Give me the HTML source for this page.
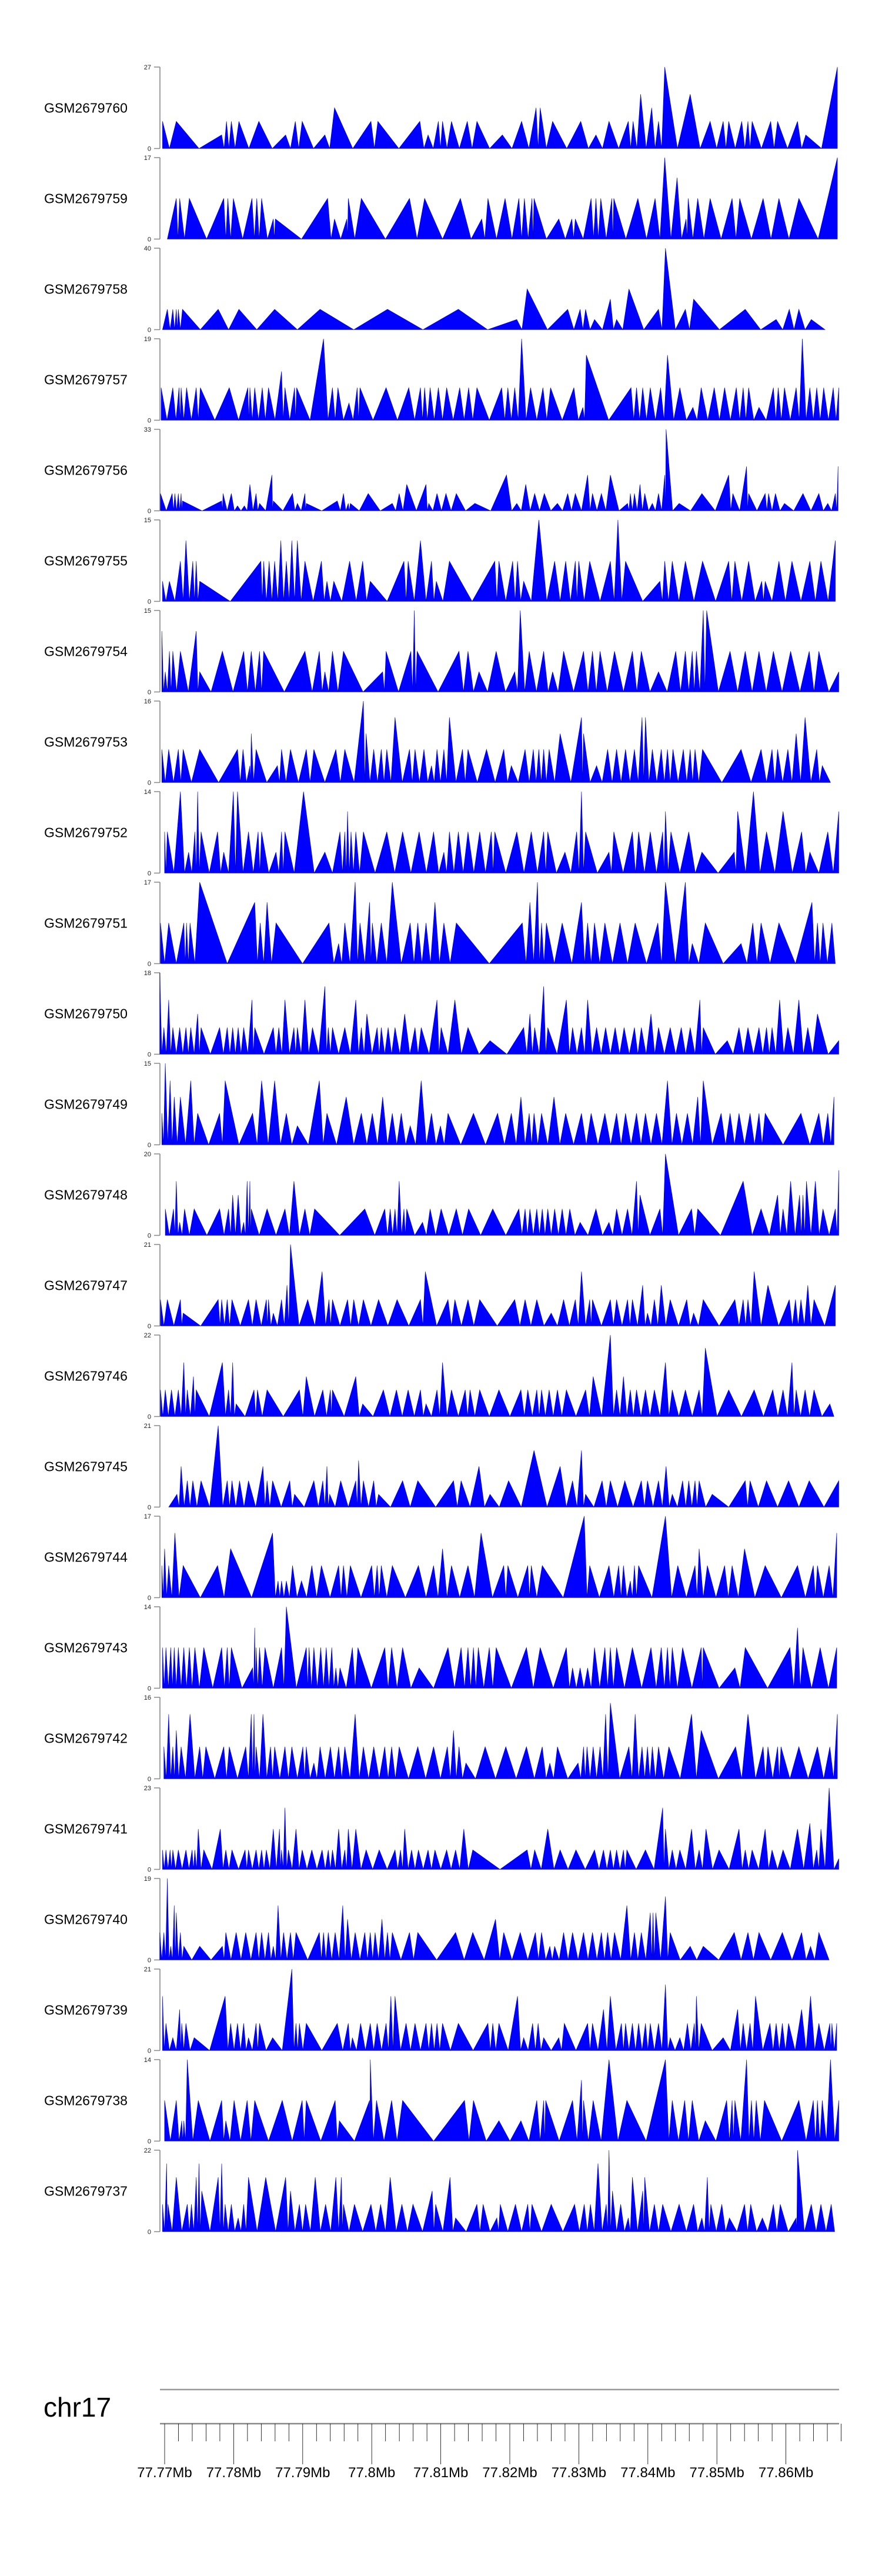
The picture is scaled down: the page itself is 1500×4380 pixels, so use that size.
<!DOCTYPE html>
<html><head><meta charset="utf-8"><style>
html,body{margin:0;padding:0;background:#fff;}
svg{display:block;font-family:"Liberation Sans",sans-serif;}
</style></head><body>
<svg id="chart" xmlns="http://www.w3.org/2000/svg" width="1500" height="4380" viewBox="0 0 1500 4380"></svg>
<script>
const sampleNames = ["GSM2679760","GSM2679759","GSM2679758","GSM2679757","GSM2679756","GSM2679755","GSM2679754","GSM2679753","GSM2679752","GSM2679751","GSM2679750","GSM2679749","GSM2679748","GSM2679747","GSM2679746","GSM2679745","GSM2679744","GSM2679743","GSM2679742","GSM2679741","GSM2679740","GSM2679739","GSM2679738","GSM2679737"];
const trackMax = [27,17,40,19,33,15,15,16,14,17,18,15,20,21,22,21,17,14,16,23,19,21,14,22];
const axisTickMb = [77.77,77.78,77.79,77.80,77.81,77.82,77.83,77.84,77.85,77.86];
const axisTickLabels = ["77.77Mb","77.78Mb","77.79Mb","77.8Mb","77.81Mb","77.82Mb","77.83Mb","77.84Mb","77.85Mb","77.86Mb"];

const pos760 = [1.4,3.4,10.0,10.7,11.4,12.5,15.4,19.3,20.7,21.7,25.0,26.4,31.7,32.7,38.8,40.0,41.5,42.1,43.4,45.7,47.1,50.8,53.6,55.7,56.3,58.1,62.2,64.4,66.3,69.1,69.8,70.9,72.5,73.5,74.4,78.1,81.0,82.9,83.7,85.6,86.5,87.1,89.8,90.8,93.7,94.9,99.5];
const val760 = [9,9,4.5,9,9,9,9,4.5,9,9,4.5,13.5,9,9,9,4.5,9,9,9,9,9,4.5,9,13.5,13.5,9,9,4.5,9,9,9,18,13.5,9,27,18,9,9,9,9,9,9,9,9,9,4.5,27];
const pos759 = [2.1,3.4,3.9,5.3,10.3,10.9,11.7,14.4,15.1,15.8,17.5,17.8,25.4,26.4,28.2,28.4,30.3,37.3,39.5,44.7,47.8,48.7,51.2,53.2,54.0,55.1,55.4,59.0,60.9,61.4,63.7,64.4,65.1,66.7,67.0,70.5,73.0,74.4,76.2,77.5,77.8,79.2,81.0,84.2,85.3,88.7,91.0,93.9,99.5];
const val759 = [0,8.5,8.5,8.5,8.5,8.5,8.5,8.5,8.5,8.5,4.2,4.2,8.5,4.2,4.2,8.5,8.5,8.5,8.5,8.5,4.2,8.5,8.5,8.5,8.5,8.5,8.5,4.2,4.2,4.2,8.5,8.5,8.5,8.5,8.5,8.5,8.5,17,12.8,4.2,8.5,8.5,8.5,8.5,8.5,8.5,8.5,8.5,17];
const pos758 = [1.4,2.1,2.9,3.4,3.7,4.3,9.5,12.5,17.7,24.3,34.1,44.4,52.9,54.4,60.3,62.1,62.9,64.2,66.5,67.4,69.2,73.5,74.5,77.4,78.6,86.1,90.6,92.5,93.9,95.7,97.7];
const val758 = [0,10,10,10,10,10,10,10,10,10,10,10,5,20,10,10,10,5,15,5,20,10,40,10,15,10,5,10,10,5,0];
const pos757 = [1.2,2.9,3.8,4.1,4.9,6.3,6.9,11.1,13.8,14.1,14.8,15.9,16.8,18.7,19.2,20.6,20.9,24.8,26.1,26.9,28.5,29.7,30.1,33.9,37.2,38.9,39.5,40.3,41.5,42.7,44.6,45.9,47.1,50.7,51.6,52.6,53.6,54.9,56.7,57.8,61.2,62.5,63.0,69.5,70.3,71.2,72.3,73.8,74.8,76.6,78.5,79.7,81.6,83.1,84.8,85.8,86.6,88.1,90.2,90.9,91.8,93.5,94.4,95.5,96.5,97.5,98.9,99.7];
const val757 = [7.6,7.6,7.6,7.6,7.6,7.6,7.6,7.6,7.6,7.6,7.6,7.6,7.6,11.4,7.6,7.6,7.6,19,7.6,7.6,4,7.6,7.6,7.6,7.6,7.6,7.6,7.6,7.6,7.6,7.6,7.6,7.6,7.6,7.6,7.6,19,7.6,7.6,7.6,7.6,3,15.2,7.6,7.6,7.6,7.6,7.6,15.2,7.6,3,7.6,7.6,7.6,7.6,7.6,7.6,3,7.6,7.6,7.6,7.6,19,7.6,7.6,7.6,7.6,7.6];
const pos756 = [1.1,2.8,3.2,3.7,4.1,4.3,10.0,10.2,11.4,12.3,13.3,14.1,15.0,15.5,17.3,17.5,20.3,21.0,22.1,22.3,26.8,27.7,28.4,28.7,31.3,34.8,35.8,36.9,39.7,40.1,41.3,42.6,44.1,46.8,51.4,52.9,54.2,55.5,56.9,58.8,60.3,61.4,63.2,63.9,65.2,66.5,69.0,69.4,70.0,70.8,71.5,72.6,73.5,74.4,74.6,76.5,79.8,83.7,84.3,86.3,86.6,89.0,89.5,90.5,91.8,94.5,96.8,98.1,99.2,99.6];
const val756 = [7,7,7,7,7,4,4,7,7,2,2,10.7,7,3,14.5,4,7,3,7,3,4,7,3,3,7,3,7,10.7,10.7,3,7,7,7,3,14.5,3,10.7,7,7,3,7,7,14.5,7,7,14.5,3,7,7,10.7,7,3,7,14.5,33,3,7,14.5,7,18,7,7,7,7,3,7,7,3,7,18];
const pos755 = [1.4,2.4,4.0,4.8,5.8,6.3,6.8,15.7,16.1,16.9,17.7,18.6,19.4,20.2,21.0,22.1,24.5,25.3,26.3,28.6,30.5,31.6,36.5,37.1,38.9,40.5,41.2,43.1,49.7,50.3,52.3,53.0,53.9,56.1,58.4,60.0,61.4,61.9,63.5,66.5,67.6,68.7,73.7,74.4,75.5,77.4,79.9,83.7,84.6,86.6,88.5,89.0,91.0,92.9,95.5,97.1,99.2];
const val755 = [3.7,3.7,7.4,11.2,7.4,7.4,3.7,7.4,7.4,7.4,7.4,11.2,7.4,11.2,11.2,7.4,7.4,3.7,3.7,7.4,7.4,3.7,7.4,7.4,11.2,7.4,3.7,7.4,7.4,7.4,7.4,7.4,3.7,15,7.4,7.4,7.4,7.4,7.4,7.4,15,7.4,3.7,7.4,7.4,7.4,7.4,7.4,7.4,7.4,3.7,3.7,7.4,7.4,7.4,7.4,11.2];
const pos754 = [1.3,1.8,2.4,2.9,4.0,6.3,6.8,10.1,13.2,14.3,15.5,16.1,22.1,24.2,25.0,26.1,27.7,33.4,33.9,37.5,38.0,38.4,44.5,45.8,47.4,49.9,52.6,53.4,54.7,56.8,58.1,59.7,62.6,63.9,65.0,67.1,69.7,71.0,73.5,76.0,77.4,78.4,79.0,80.0,80.5,83.9,86.1,88.1,90.2,92.7,95.4,96.8,99.7];
const val754 = [11.2,3.7,7.5,7.5,7.5,11.2,3.7,7.5,7.5,7.5,7.5,7.5,7.5,7.5,3.7,7.5,7.5,3.7,7.5,7.5,15,7.5,7.5,7.5,3.7,7.5,3.7,15,7.5,7.5,3.7,7.5,7.5,7.5,7.5,7.5,7.5,7.5,3.7,7.5,7.5,7.5,7.5,15,15,7.5,7.5,7.5,7.5,7.5,7.5,7.5,3.7];
const pos753 = [1.3,2.3,3.7,4.4,6.8,12.3,13.1,14.1,14.3,15.0,18.1,18.7,20.0,22.3,23.4,26.6,27.9,30.6,31.0,32.1,33.2,34.0,35.2,37.3,38.1,39.4,40.5,41.3,42.3,43.1,45.0,45.8,48.5,51.0,52.1,54.1,55.3,56.1,56.8,57.6,59.2,62.3,62.6,64.5,66.1,67.4,68.7,70.0,71.1,71.6,72.6,73.9,74.8,75.6,77.1,78.1,78.8,79.9,85.5,88.4,90.0,90.8,92.3,93.5,94.8,96.5,97.3,98.5];
const val753 = [6.5,6.5,6.5,6.5,6.5,6.5,6.5,3.3,9.6,6.5,3.3,6.5,6.5,6.5,6.5,6.5,6.5,16,9.6,6.5,6.5,6.5,12.8,6.5,6.5,6.5,3.3,6.5,6.5,12.8,6.5,6.5,6.5,6.5,3.3,6.5,6.5,6.5,6.5,6.5,9.6,12.8,9.6,3.3,6.5,6.5,6.5,6.5,12.8,12.8,6.5,6.5,6.5,6.5,6.5,6.5,6.5,6.5,6.5,6.5,6.5,6.5,6.5,9.6,12.8,6.5,3.3,0];
const pos752 = [1.7,2.1,4.0,5.2,6.1,6.5,7.0,9.4,10.3,11.7,12.3,13.9,15.3,15.8,17.9,18.7,19.2,21.9,25.0,27.2,27.9,28.3,28.8,29.5,30.6,34.0,36.3,38.7,40.8,42.3,43.1,44.4,45.8,47.5,49.2,49.7,52.9,55.0,56.8,57.4,59.9,61.6,62.3,62.9,66.3,67.0,69.7,70.6,72.3,74.1,74.5,75.3,77.9,79.8,84.5,85.0,87.3,89.2,91.6,94.3,95.5,98.1,99.7];
const val752 = [7.1,7.1,14,3.6,7.1,14,7.1,7.1,3.6,14,14,7.1,7.1,7.1,3.6,7.1,7.1,14,3.6,7.1,7.1,10.6,7.1,7.1,7.1,7.1,7.1,7.1,7.1,3.6,7.1,7.1,7.1,7.1,7.1,7.1,7.1,7.1,7.1,7.1,3.6,7.1,14,7.1,3.6,7.1,7.1,7.1,7.1,7.1,10.6,7.1,7.1,3.6,3.6,10.6,14,7.1,10.6,7.1,3.6,7.1,10.6];
const pos751 = [1.1,2.3,4.5,4.9,5.4,6.8,14.8,15.6,16.6,17.9,25.6,27.0,27.9,29.4,30.1,31.5,31.9,33.2,34.8,37.4,38.5,39.7,41.0,42.3,44.1,53.7,54.8,55.9,56.5,57.2,59.5,62.3,63.2,64.2,65.7,67.9,70.1,73.4,74.5,77.4,78.4,80.3,85.5,87.2,88.4,91.0,95.8,96.6,97.4,98.7,99.2];
const val751 = [8.5,8.5,8.5,8.5,8.5,17,12.8,8.5,12.8,8.5,8.5,4.2,8.5,17,8.5,12.8,8.5,8.5,17,8.5,8.5,8.5,12.8,8.5,8.5,8.5,12.8,17,8.5,8.5,8.5,12.8,8.5,8.5,8.5,8.5,8.5,8.5,17,17,4.2,8.5,4.2,8.5,8.5,8.5,12.8,8.5,8.5,8.5,0];
const pos750 = [1.0,1.6,2.3,2.9,3.9,4.8,5.5,6.5,7.0,9.7,10.8,11.6,12.4,13.2,14.4,14.8,17.5,18.3,19.2,20.5,21.0,22.1,23.2,25.0,25.5,26.1,27.9,29.5,30.3,31.1,32.6,33.2,34.2,35.2,36.6,38.1,39.0,41.3,41.9,43.9,45.8,49.0,53.9,54.8,55.5,56.8,57.4,60.1,61.0,62.3,63.2,64.5,65.8,67.2,68.5,70.0,71.0,72.4,73.5,75.2,76.8,78.1,79.5,80.0,83.5,85.2,86.5,88.1,89.2,90.0,91.1,92.3,93.9,95.2,96.6,99.7];
const val750 = [18,5.9,12,5.9,5.9,5.9,5.9,8.9,5.9,5.9,5.9,5.9,5.9,5.9,12,5.9,5.9,5.9,12,5.9,5.9,12,5.9,15,5.9,5.9,5.9,12,5.9,8.9,5.9,5.9,5.9,5.9,8.9,5.9,5.9,12,5.9,12,5.9,3,5.9,8.9,5.9,15,5.9,12,5.9,5.9,12,5.9,5.9,5.9,5.9,5.9,5.9,8.9,5.9,5.9,5.9,5.9,12,5.9,3,5.9,5.9,5.9,5.9,5.9,12,5.9,12,5.9,8.9,3];
const pos749 = [1.3,1.8,2.5,3.1,4.0,5.5,6.5,9.7,10.5,14.5,15.8,17.7,19.4,21.0,24.2,25.3,28.1,30.3,31.9,33.4,34.8,36.1,37.4,39.0,40.5,41.8,42.9,46.6,50.1,52.1,53.5,54.7,55.4,56.5,58.3,60.0,62.3,63.7,65.7,67.4,68.7,70.3,71.6,73.2,74.8,76.1,77.7,79.2,80.0,82.6,83.9,85.2,86.8,88.1,89.0,94.2,96.8,98.1,99.0];
const val749 = [5.8,15,11.8,8.8,8.8,11.8,5.8,5.8,11.8,5.8,11.8,11.8,5.8,3.5,11.8,5.8,8.8,5.8,5.8,8.8,5.8,5.8,3.5,11.8,5.8,3.5,5.8,5.8,5.8,5.8,8.8,5.8,5.8,5.8,8.8,5.8,5.8,5.8,5.8,5.8,5.8,5.8,5.8,5.8,11.8,5.8,5.8,8.8,11.8,5.8,5.8,5.8,5.8,5.8,5.8,5.8,5.8,5.8,8.8];
const pos748 = [1.8,3.0,3.4,3.9,4.6,6.0,9.7,11.0,11.6,12.4,13.2,13.7,14.1,14.3,16.6,19.2,20.5,22.1,23.5,30.8,33.7,34.5,35.2,35.8,36.5,36.9,39.2,40.3,41.9,44.1,45.9,49.4,53.2,54.1,54.8,55.8,56.6,57.4,58.4,59.5,60.6,62.1,64.4,66.3,67.4,69.0,70.3,70.8,73.7,74.5,78.3,79.2,85.8,88.4,90.8,91.6,92.7,94.0,94.5,95.0,96.3,97.4,99.2,99.7];
const val748 = [6.5,6.5,13.3,3.2,6.5,6.5,6.5,6.5,9.9,9.9,3.2,13.3,13.3,6.5,6.5,6.5,13.3,6.5,6.5,6.5,6.5,6.5,6.5,13.3,6.5,6.5,3.2,6.5,6.5,6.5,6.5,6.5,6.5,6.5,6.5,6.5,6.5,6.5,6.5,6.5,6.5,3.2,6.5,3.2,6.5,6.5,13.3,9.9,6.5,20,6.5,6.5,13.3,6.5,9.9,6.5,13.3,9.9,9.9,13.3,13.3,6.5,6.5,16];
const pos747 = [1.1,2.1,4.0,4.4,9.5,10.0,10.8,11.5,13.9,15.0,16.5,16.8,17.5,18.7,19.5,20.0,22.5,24.6,25.6,26.1,28.3,29.2,30.6,32.8,35.5,38.9,39.6,42.9,43.9,45.8,47.5,52.6,54.1,55.8,57.9,59.7,61.4,62.3,63.5,63.9,66.5,67.4,69.0,69.7,71.2,71.9,72.9,73.9,75.2,77.6,78.6,80.0,84.6,85.8,86.5,87.4,89.4,92.5,93.4,94.2,95.2,96.1,99.2];
const val747 = [6.8,6.8,6.8,3.3,6.8,6.8,6.8,6.8,6.8,6.8,6.8,6.8,3.3,6.8,10.5,21,6.8,14,6.8,6.8,6.8,6.8,6.8,6.8,6.8,6.8,14,6.8,6.8,6.8,6.8,6.8,6.8,6.8,3.3,6.8,6.8,14,6.8,6.8,6.8,6.8,6.8,6.8,10.5,3.3,6.8,10.5,6.8,6.8,3.3,6.8,6.8,6.8,6.8,14,10.5,6.8,6.8,6.8,10.5,6.8,10.5];
const pos746 = [1.1,1.8,2.7,3.7,4.5,5.0,5.9,6.3,10.1,11.0,11.6,12.1,14.7,15.2,16.6,21.3,22.3,24.7,25.8,26.1,29.5,30.5,33.5,35.4,37.1,38.9,39.7,41.3,42.1,43.4,45.4,46.1,47.5,50.3,53.5,54.5,55.8,56.5,57.6,58.8,60.1,62.9,64.0,66.5,67.4,68.4,69.4,70.3,71.6,72.9,74.5,75.5,77.4,79.4,80.3,83.7,87.4,90.1,91.6,92.9,93.5,94.8,96.1,98.4,99.0];
const val746 = [7.2,7.2,7.2,7.2,14.6,7.2,10.8,7.2,14.6,7.2,14.6,3.4,7.2,7.2,7.2,7.2,10.8,7.2,7.2,7.2,10.8,3.4,7.2,7.2,7.2,7.2,3.4,7.2,14.6,7.2,7.2,7.2,7.2,7.2,7.2,7.2,7.2,7.2,7.2,7.2,7.2,7.2,10.8,22,7.2,10.8,7.2,7.2,7.2,7.2,14.6,7.2,7.2,7.2,18.5,7.2,7.2,7.2,7.2,14.6,7.2,7.2,7.2,3.4,0];
const pos745 = [2.3,3.5,4.1,5.0,5.8,7.0,9.5,10.8,11.5,12.6,13.9,16.0,16.6,17.4,19.9,20.6,23.4,24.7,25.3,25.7,27.3,29.5,29.9,30.6,32.1,32.8,36.3,38.5,43.7,44.8,47.4,49.0,51.7,55.4,59.2,61.0,62.3,62.9,65.3,66.5,68.6,71.0,71.9,73.5,74.6,75.5,77.0,77.9,78.8,79.4,81.3,86.1,86.8,89.2,92.4,95.4,99.7];
const val745 = [0,3.3,10.5,6.8,6.8,6.8,21,6.8,6.8,6.8,6.8,10.5,6.8,6.8,6.8,3.3,6.8,6.8,10.5,3.3,6.8,6.8,12,6.8,6.8,3.3,6.8,6.8,6.8,6.8,10.5,3.3,6.8,14.6,10.5,6.8,14.6,3.3,6.8,6.8,6.8,6.8,6.8,6.8,10.5,3.3,6.8,6.8,6.8,6.8,3.3,6.8,6.8,6.8,6.8,6.8,6.8];
const pos744 = [1.3,1.7,2.3,3.2,4.4,9.4,11.3,17.4,18.2,18.7,19.4,20.3,21.6,23.1,24.5,27.0,27.7,28.7,31.8,32.6,33.2,34.8,38.6,40.8,42.1,43.4,45.8,47.7,51.0,51.6,54.5,55.0,56.6,62.7,63.5,66.3,67.7,68.4,69.4,70.0,70.6,74.5,76.3,78.8,79.4,80.6,83.1,84.2,86.0,89.0,93.7,96.0,96.6,98.3,99.4];
const val744 = [6.7,10.2,6.7,13.5,6.7,6.7,10.2,13.5,3.5,3.5,3.5,6.7,3.5,6.7,6.7,6.7,6.7,6.7,6.7,6.7,6.7,6.7,6.7,6.7,10.2,6.7,6.7,13.5,6.7,6.7,6.7,6.7,6.7,17,6.7,6.7,6.7,6.7,3.5,6.7,6.7,17,6.7,6.7,10.2,6.7,6.7,6.7,10.2,6.7,6.7,6.7,6.7,6.7,13.5];
const pos743 = [1.4,1.9,2.6,3.1,3.7,4.5,5.3,6.1,7.4,10.0,10.8,11.4,14.5,14.8,15.0,15.5,16.3,18.7,19.4,22.3,22.7,23.4,24.4,25.2,26.0,26.6,27.2,29.0,29.8,33.7,34.7,36.3,38.7,42.9,44.8,45.8,46.6,47.3,48.9,49.9,54.3,56.3,60.1,61.0,62.1,63.2,64.2,65.7,66.5,67.4,69.7,72.4,73.9,74.8,75.5,77.0,79.7,80.0,84.6,86.1,92.6,93.7,94.5,97.0,99.4];
const val743 = [7,7,7,7,7,7,7,7,7,7,7,7,3.5,10.4,7,7,7,7,14,7,7,7,7,7,7,3.5,3.5,7,7,7,7,7,3.5,7,7,7,7,7,7,7,7,7,7,3.5,3.5,3.5,7,7,7,7,7,7,7,7,7,7,7,7,3.5,7,7,10.4,7,7,7];
const pos742 = [1.6,2.3,2.9,3.4,4.1,5.4,6.8,7.7,10.3,11.1,13.5,14.3,14.7,15.0,16.0,17.1,17.7,19.2,20.2,21.8,22.3,23.4,24.3,25.8,27.0,27.9,29.4,30.6,32.1,33.7,34.7,35.8,38.5,40.8,42.8,43.7,44.5,45.5,48.3,51.3,54.3,56.6,57.7,58.8,61.8,62.6,63.1,64.0,65.0,65.8,66.5,69.2,70.1,71.1,71.9,72.6,73.5,75.0,78.3,79.7,84.7,86.5,88.7,89.4,90.8,91.3,93.9,96.6,98.4,99.5];
const val742 = [6.3,12.7,6.3,9.5,6.3,12.7,6.3,6.3,6.3,6.3,6.3,12.7,12.7,6.3,12.7,6.3,6.3,6.3,6.3,6.3,6.3,3.1,6.3,6.3,6.3,6.3,12.7,6.3,6.3,6.3,6.3,6.3,6.3,6.3,6.3,9.5,6.3,3.1,6.3,6.3,6.3,6.3,3.1,6.3,3.1,6.3,6.3,6.3,6.3,12.7,14.9,6.3,12.7,6.3,6.3,6.3,6.3,6.3,12.7,9.5,6.3,12.7,6.3,6.3,6.3,6.3,6.3,6.3,6.3,12.7];
const pos741 = [1.4,1.9,2.5,2.9,3.7,4.8,5.7,6.1,6.6,7.4,9.8,10.6,11.5,13.4,13.9,15.0,15.8,16.5,17.5,18.4,18.7,19.2,19.7,20.8,21.7,23.1,24.6,25.5,26.1,27.0,27.9,28.4,29.5,31.0,32.9,35.2,36.0,36.6,37.6,38.6,40.0,41.0,42.7,44.0,45.2,46.5,54.4,55.5,57.4,59.2,61.5,64.2,65.5,66.5,67.4,68.4,68.9,71.6,74.1,74.5,75.5,76.6,78.3,79.4,80.4,82.3,85.2,86.1,87.1,89.0,90.0,91.6,93.7,95.5,96.5,97.1,98.3,99.7];
const val741 = [5.5,5.5,5.5,5.5,5.5,5.5,5.5,5.5,11.4,5.5,11.4,5.5,5.5,5.5,5.5,5.5,5.5,5.5,11.4,11.4,5.5,17.4,5.5,11.4,5.5,5.5,5.5,5.5,5.5,11.4,5.5,11.4,11.4,5.5,5.5,5.5,5.5,11.4,5.5,5.5,5.5,5.5,5.5,5.5,11.4,5.5,5.5,5.5,11.4,5.5,5.5,5.5,5.5,5.5,5.5,5.5,5.5,5.5,17.4,11.4,5.5,5.5,11.4,5.5,11.4,5.5,11.4,5.5,5.5,11.4,5.5,5.5,11.4,13,5.5,11.4,23,3];
const pos740 = [1.0,1.6,2.1,2.6,3.1,3.4,4.0,4.5,6.8,10.1,10.6,12.1,13.5,15.0,15.8,16.8,17.5,18.2,19.0,20.0,20.8,24.2,24.8,25.5,26.5,27.6,28.3,29.4,30.8,31.6,32.3,33.3,34.1,34.8,37.3,38.5,44.0,46.5,49.8,51.0,53.4,55.6,56.5,57.7,58.4,59.7,61.0,62.6,63.9,65.2,66.1,67.1,68.9,70.0,71.0,72.3,72.7,73.1,74.5,75.2,78.1,80.0,84.5,86.5,88.1,91.5,94.3,95.6,96.8,98.3];
const val740 = [6.4,6.4,19,3.2,12.7,11,6.4,3.2,3.2,3.2,6.4,6.4,6.4,6.4,6.4,6.4,3.2,12.7,6.4,6.4,6.4,6.4,6.4,6.4,6.4,12.7,9.5,6.4,6.4,6.4,6.4,9.5,6.4,6.4,6.4,6.4,6.4,6.4,9.5,6.4,6.4,6.4,6.4,3.2,3.2,6.4,6.4,6.4,6.4,6.4,6.4,6.4,12.7,6.4,6.4,11,11,11,14.8,6.4,3.2,3.2,6.4,6.4,6.4,6.4,6.4,3.2,6.4,0];
const pos739 = [1.4,1.9,2.9,3.9,4.2,4.8,6.0,10.5,11.3,12.3,13.2,13.9,15.0,15.5,17.4,20.2,20.8,21.3,22.3,26.8,28.4,29.0,30.2,31.6,32.6,33.9,34.6,35.2,36.8,38.1,39.7,40.5,41.3,42.1,44.4,48.7,49.4,50.3,53.0,53.9,55.2,56.0,56.8,59.0,59.8,63.2,63.9,65.5,66.5,68.1,68.7,69.7,70.6,71.6,72.3,73.5,74.5,75.2,76.6,77.7,78.7,79.0,79.7,82.9,85.0,85.8,86.8,87.6,89.7,90.6,91.5,92.4,94.3,95.6,96.8,98.4,98.7,99.4];
const val739 = [14,7,3.3,10.6,7,7,3.3,14,7,7,7,3.3,7,7,3.3,21,7,7,7,7,7,3.3,7,7,7,7,14,14,7,7,7,7,7,7,7,7,7,7,14,3.3,7,7,3.3,3.3,7,7,7,10.6,14,7,7,7,7,7,7,7,17,3.3,3.3,7,7,14,7,3.3,10.6,7,7,14,7,7,7,7,10.6,14,7,7,7,7];
const pos738 = [1.7,3.4,4.2,4.5,5.0,6.6,10.0,10.6,11.8,13.7,14.8,18.8,21.7,22.3,26.5,27.1,31.5,31.6,32.5,34.7,36.3,45.3,46.6,50.3,53.5,55.8,56.8,57.1,61.0,62.3,62.6,64.0,66.3,68.9,74.5,75.5,77.3,78.4,80.3,83.4,84.2,84.6,86.3,87.0,87.7,88.9,93.9,96.0,96.6,97.3,98.5,99.7];
const val738 = [7,7,3.5,3.5,14,7,7,3.5,7,7,7,7,7,7,7,3.5,7,14,7,7,7,7,7,3.5,3.5,7,7,7,7,10.5,7,7,14,7,14,7,7,7,3.5,7,7,7,14,7,7,7,7,7,7,7,14,7];
const pos737 = [1.4,2.0,2.2,3.4,5.0,5.6,6.3,6.7,7.1,9.5,10.0,10.5,11.4,12.4,13.2,13.9,16.4,19.3,20.0,21.3,22.2,23.6,25.1,26.6,27.4,27.7,29.3,31.7,33.1,34.5,36.2,37.8,40.6,41.1,43.2,44.0,47.1,48.0,50.0,50.5,52.7,54.5,55.1,57.9,61.3,62.7,63.6,64.7,65.9,66.3,66.8,68.0,69.1,69.7,71.2,71.5,72.9,74.1,76.5,78.6,79.8,80.6,81.1,82.7,83.8,86.0,86.9,88.6,90.2,91.2,93.5,93.7,95.7,97.1,98.6,99.1];
const val737 = [7.4,18.4,7.4,14.7,7.4,7.4,14.7,18.4,11,14.7,18.4,7.4,7.4,3.7,7.4,14.7,14.7,14.7,11,7.4,7.4,14.7,7.4,14.7,14.7,7.4,7.4,7.4,7.4,14.7,7.4,7.4,11,7.4,14.7,3.7,7.4,7.4,3.7,7.4,7.4,7.4,7.4,7.4,7.4,7.4,7.4,18.4,7.4,22,11,7.4,3.7,14.7,11,14.7,7.4,7.4,7.4,7.4,3.7,14.7,7.4,7.4,3.7,7.4,7.4,3.7,7.4,7.4,3.7,22,7.4,7.4,7.4,0];

const posSeries = [pos760,pos759,pos758,pos757,pos756,pos755,pos754,pos753,pos752,pos751,pos750,pos749,pos748,pos747,pos746,pos745,pos744,pos743,pos742,pos741,pos740,pos739,pos738,pos737];
const valSeries = [val760,val759,val758,val757,val756,val755,val754,val753,val752,val751,val750,val749,val748,val747,val746,val745,val744,val743,val742,val741,val740,val739,val738,val737];

const NS = "http://www.w3.org/2000/svg";
const svg = document.getElementById("chart");
const TRACK_TOP0 = 114, TRACK_PITCH = 154, TRACK_H = 138.5;
const AXIS_X = 272;
function xScale(p){ return 260 + p * 11.7; }
function mbScale(mb){ return 280 + (mb - 77.77) * 1000 * 11.74; }
function yScale(v, k){ const base = TRACK_TOP0 + k*TRACK_PITCH + TRACK_H; return base - v / trackMax[k] * TRACK_H; }
function mk(tag, attrs){ const e = document.createElementNS(NS, tag); for (const a in attrs) e.setAttribute(a, attrs[a]); return e; }

sampleNames.forEach((name, k) => {
  const top = TRACK_TOP0 + k*TRACK_PITCH, base = top + TRACK_H;
  const g = mk("g", {});
  
  
  svg.appendChild(g);

  const lab = mk("text", {x: 75, y: top + TRACK_H/2 + 8, "font-size": 23, fill: "#000"});
  
  
  lab.textContent = name;
  g.appendChild(lab);

  const ax = mk("path", {d: `M${AXIS_X} ${top}V${base}M${AXIS_X-10} ${top}H${AXIS_X}M${AXIS_X-10} ${base}H${AXIS_X}`, stroke: "#888", "stroke-width": 1.6, fill: "none"});
  
  
  g.appendChild(ax);

  const tTop = mk("text", {x: AXIS_X-15, y: top + 4, "font-size": 11, "text-anchor": "end", fill: "#222"});
  
  
  tTop.textContent = trackMax[k];
  g.appendChild(tTop);
  const tBot = mk("text", {x: AXIS_X-15, y: base + 4, "font-size": 11, "text-anchor": "end", fill: "#222"});
  
  
  tBot.textContent = "0";
  g.appendChild(tBot);

  const P = posSeries[k], V = valSeries[k];
  const n = Math.min(P.length, V.length);
  const pts = [[P[0], 0]];
  for (let i = 0; i < n; i++) {
    pts.push([P[i], V[i]]);
    if (i < n-1 && V[i] > 0 && V[i+1] > 0) pts.push([(P[i]+P[i+1])/2, 0]);
  }
  pts.push([P[n-1], 0]);
  const d = pts.map((q, i) => (i ? "L" : "M") + xScale(q[0]).toFixed(1) + " " + yScale(q[1], k).toFixed(1)).join("") + "Z";
  const area = mk("path", {d: d, fill: "#0000ff", stroke: "#0000cc", "stroke-width": 0.6, "stroke-linejoin": "miter"});
  
  
  g.appendChild(area);
});

const chrLab = mk("text", {x: 74, y: 4109, "font-size": 46, fill: "#000"});


chrLab.textContent = "chr17";
svg.appendChild(chrLab);

const ideo = mk("line", {x1: 272, x2: 1427, y1: 4063, y2: 4063, stroke: "#999", "stroke-width": 2.5});


svg.appendChild(ideo);

const gax = mk("line", {x1: 272, x2: 1427, y1: 4121, y2: 4121, stroke: "#888", "stroke-width": 2.5});


svg.appendChild(gax);

for (let i = 0; i <= 49; i++) {
  const mb = 77.77 + i * 0.002;
  const x = mbScale(mb);
  const major = i % 5 === 0;
  const t = mk("line", {x1: x, x2: x, y1: 4121, y2: major ? 4190 : 4151, stroke: "#000", "stroke-width": 0.8});
  
  
  svg.appendChild(t);
}
axisTickMb.forEach((mb, i) => {
  const lab = mk("text", {x: mbScale(mb), y: 4212, "font-size": 24, "text-anchor": "middle", fill: "#000"});
  
  
  lab.textContent = axisTickLabels[i];
  svg.appendChild(lab);
});
</script>
</body></html>
